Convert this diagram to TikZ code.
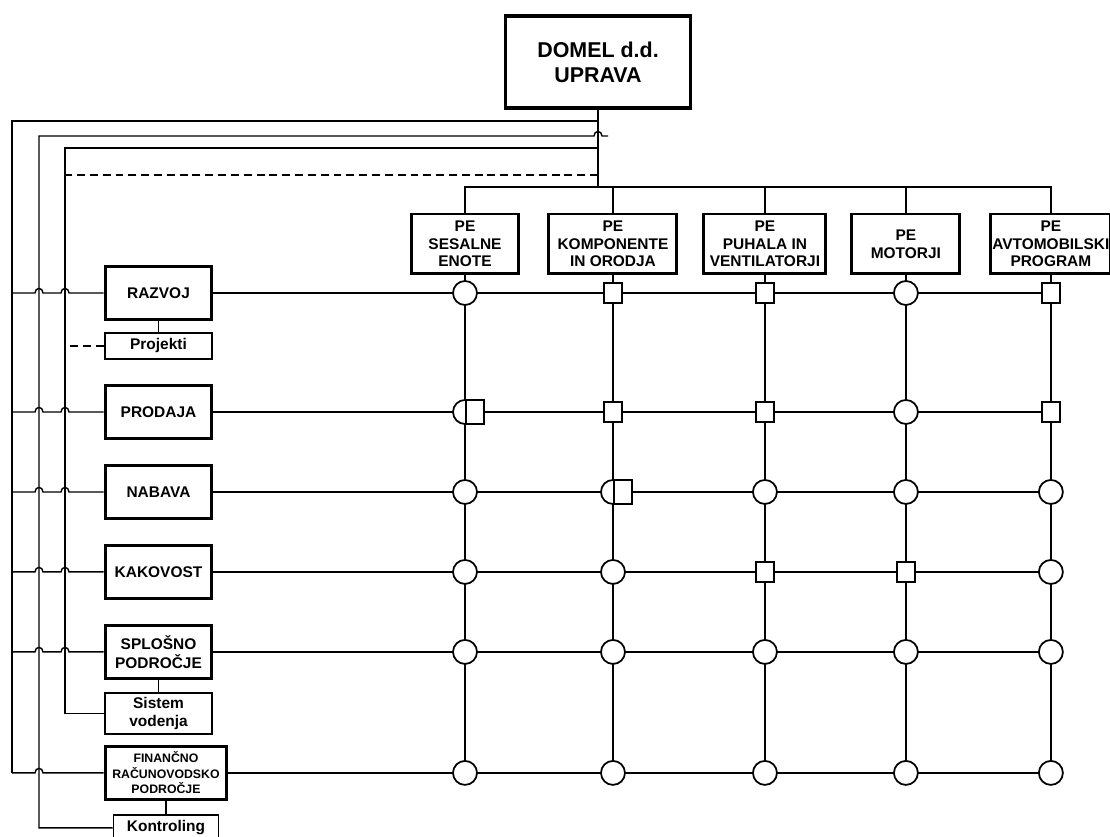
\documentclass[tikz,border=0pt]{standalone}
\usepackage{fontspec}
\setmainfont{Liberation Sans}
\usetikzlibrary{positioning}

\begin{document}
\begin{tikzpicture}
    [x=0.02cm, y=-0.02cm, node distance=1.6cm,
    every node/.style={align=center, font=\bfseries},
    board/.style={rectangle, draw, line width=2pt, minimum width=3.7cm, minimum height=1.84cm,
    inner sep=0pt, font=\fontsize{12.2}{14.2}\selectfont\bfseries},
    unit/.style={rectangle, draw, fill=white, line width=1.7pt, minimum height=1.2cm, inner sep=0pt,
    font=\fontsize{8.8}{10}\selectfont\bfseries},
    dept/.style={rectangle, draw, fill=white, line width=1.7pt, minimum width=2.14cm,
    minimum height=1.06cm, inner sep=0pt, font=\fontsize{8.8}{10.5}\selectfont\bfseries},
    sub/.style={rectangle, draw, fill=white, line width=1.1pt, minimum width=2.14cm,
    minimum height=0.52cm, inner sep=0pt, font=\fontsize{8.8}{10.3}\selectfont\bfseries},
    link/.style={line width=0.8pt},
    ring/.style={circle, draw, fill=white, line width=1pt, minimum size=0.48cm, inner sep=0pt},
    cell/.style={rectangle, draw, fill=white, line width=1pt, minimum width=0.36cm,
    minimum height=0.4cm, inner sep=0pt}]
    \useasboundingbox (0,0) rectangle (1110,837);

    \node [board] (domel) at (598,62) {DOMEL d.d.\\UPRAVA};
    \node [unit, minimum width=2.14cm] (sesalne) at (465,244) {PE\\SESALNE\\ENOTE};
    \node [unit, minimum width=2.56cm, right of=sesalne, node distance=2.96cm] (komponente)
    {PE\\KOMPONENTE\\IN ORODJA};
    \node [unit, minimum width=2.44cm, right of=komponente, node distance=3.04cm] (puhala)
    {PE\\PUHALA IN\\VENTILATORJI};
    \node [unit, minimum width=2.16cm, right of=puhala, node distance=2.82cm] (motorji)
    {PE\\MOTORJI};
    \node [unit, minimum width=2.4cm, right of=motorji, node distance=2.9cm] (avto)
    {PE\\AVTOMOBILSKI\\PROGRAM};

    \node [dept] (razvoj) at (158.5,293) {RAZVOJ};
    \node [sub, below of=razvoj, node distance=1.06cm] (projekti) {Projekti};
    \node [dept, below of=razvoj, node distance=2.38cm] (prodaja) {PRODAJA};
    \node [dept, below of=prodaja] (nabava) {NABAVA};
    \node [dept, below of=nabava] (kakovost) {KAKOVOST};
    \node [dept, below of=kakovost] (splosno) {SPLOŠNO\\PODROČJE};
    \node [sub, below of=splosno, node distance=1.23cm, minimum height=0.82cm] (sistem)
    {Sistem\\vodenja};
    \node [dept, below of=splosno, node distance=2.42cm, xshift=0.15cm, minimum width=2.44cm,
    font=\fontsize{7}{8.8}\selectfont\bfseries] (financno) {FINANČNO\\RAČUNOVODSKO\\PODROČJE};
    \node [sub, below of=financno, node distance=1.1cm, minimum width=2.1cm] (kontroling)
    {Kontroling};

    \coordinate (v1) at (12,121);
    \coordinate (v2) at (39,136);
    \coordinate (v2e) at (608,136);
    \coordinate (v3) at (65,148);
    \coordinate (v4) at (65,175);
    \coordinate (bus) at (598,187);

    % board down to the units
    \draw [link] (domel) -- (bus);
    \draw [link] (sesalne.north) |- (avto |- bus) -- (avto.north);
    \draw [link] (komponente.north) -- (komponente |- bus);
    \draw [link] (puhala.north) -- (puhala |- bus);
    \draw [link] (motorji.north) -- (motorji |- bus);

    % board to the departments, left side
    \draw [link] (domel.south |- v1) -- (v1) -- (v1 |- financno);
    \draw [link] (v2e) -- ++(-6,0) .. controls +(0,-6) and +(0,-6) .. ++(-8,0) -- (v2)
    -- (v2 |- kontroling) -- (kontroling.west);
    \draw [link] (domel.south |- v3) -- (v3) -- (v3 |- sistem) -- (sistem.west);
    \draw [link, dash pattern=on 4.5pt off 2.8pt] (domel.south |- v4) -- (v4);
    \draw [link, dash pattern=on 4.5pt off 2.8pt] (projekti.west) -- (v4 |- projekti);
    \foreach \dept in {razvoj, prodaja, nabava, kakovost, splosno}
    \draw [link] (v1 |- \dept) -- ++(23,0) .. controls +(0,-6) and +(0,-6) .. ++(8,0)
    -- ++(18,0) .. controls +(0,-6) and +(0,-6) .. ++(8,0) -- (\dept.west);
    \draw [link] (v1 |- financno) -- ++(23,0) .. controls +(0,-6) and +(0,-6) .. ++(8,0)
    -- (financno.west);

    \draw [link] (razvoj) -- (projekti);
    \draw [link] (splosno) -- (sistem);
    \draw [link] (financno) -- (kontroling);

    % matrix of departments and units
    \foreach \dept in {razvoj, prodaja, nabava, kakovost, splosno, financno}
    \draw [link] (\dept.east) -- (avto |- \dept);
    \foreach \pe in {sesalne, komponente, puhala, motorji, avto}
    \draw [link] (\pe.south) -- (\pe |- financno);

    \foreach \pe/\mark in {sesalne/ring, komponente/cell, puhala/cell, motorji/ring, avto/cell}
    \node [\mark] (razvoj-\pe) at (\pe |- razvoj) {};
    \foreach \pe/\mark in {sesalne/ring, komponente/cell, puhala/cell, motorji/ring, avto/cell}
    \node [\mark] (prodaja-\pe) at (\pe |- prodaja) {};
    \node [cell, anchor=west, minimum height=0.48cm] (prodaja-sesalne-cell) at (sesalne |- prodaja) {};
    \foreach \pe/\mark in {sesalne/ring, komponente/ring, puhala/ring, motorji/ring, avto/ring}
    \node [\mark] (nabava-\pe) at (\pe |- nabava) {};
    \node [cell, anchor=west, minimum height=0.48cm] (nabava-komponente-cell) at (komponente |- nabava) {};
    \foreach \pe/\mark in {sesalne/ring, komponente/ring, puhala/cell, motorji/cell, avto/ring}
    \node [\mark] (kakovost-\pe) at (\pe |- kakovost) {};
    \foreach \pe in {sesalne, komponente, puhala, motorji, avto}
    \node [ring] (splosno-\pe) at (\pe |- splosno) {};
    \foreach \pe in {sesalne, komponente, puhala, motorji, avto}
    \node [ring] (financno-\pe) at (\pe |- financno) {};
\end{tikzpicture}
\end{document}
